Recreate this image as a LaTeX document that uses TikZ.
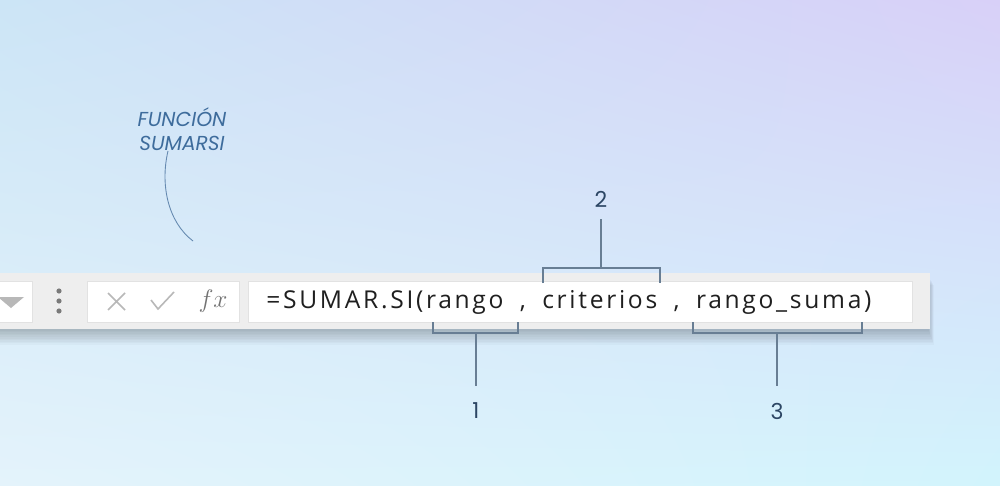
\documentclass[tikz,border=0pt]{standalone}
\usepackage{fontspec}
\setmainfont{Open Sans}
\newfontfamily\popfont{Poppins}
\newfontfamily\formfont[LetterSpace=11,WordSpace=1.8]{Open Sans}
\usetikzlibrary{positioning,shadings}

\definecolor{bgtl}{RGB}{204,229,246}
\definecolor{bgtr}{RGB}{216,208,248}
\definecolor{bgbl}{RGB}{228,243,251}
\definecolor{bgbr}{RGB}{210,244,252}
\definecolor{barfill}{RGB}{238,238,238}
\definecolor{cellline}{RGB}{226,226,226}
\definecolor{brkgray}{RGB}{104,126,148}
\definecolor{numblue}{RGB}{44,70,100}
\definecolor{titleblue}{RGB}{62,108,156}
\definecolor{icongray}{RGB}{184,184,184}

\begin{document}
\begin{tikzpicture}[x=0.02cm,y=-0.02cm,
    brk/.style={draw=brkgray,line width=0.8pt},
    num/.style={text=numblue,font=\popfont\fontsize{12.5}{12.5}\selectfont},
    cell/.style={fill=white,draw=cellline,line width=0.5pt}]
  \useasboundingbox (0,0) rectangle (1000,486);
  % background
  \shade[upper left=bgtl,upper right=bgtr,lower left=bgbl,lower right=bgbr]
    (0,0) rectangle (1000,486);

  % shadow under the bar
  \foreach \i in {1,...,10}
    \fill[black,opacity=0.025] (-10,275+\i) rectangle (928+0.6*\i,329+1.6*\i);
  \fill[barfill] (-10,273) rectangle (930,329);

  % cells
  \filldraw[cell] (-10,281) rectangle (32,322);
  \filldraw[cell] (87,281) rectangle (239,322);
  \filldraw[cell] (248,281) rectangle (912,322);

  % dropdown and dots
  \fill[icongray] (-2,297) -- (24,297) -- (11,308) -- cycle;
  \foreach \yy in {291,301,311}
    \fill[black!52] (59,\yy) circle (2.6);

  % cancel, enter, fx
  \draw[icongray,line width=0.9pt] (108,293) -- (125,310) (125,293) -- (108,310);
  \draw[icongray,line width=0.9pt] (151,300) -- (158,309) -- (174,292);
  \node[text=black!55,font=\fontsize{14}{14}\selectfont] (fx) at (213,301) {$fx$};

  % formula
  \node[anchor=base west,inner sep=0pt,text=black!88,
    font=\formfont\fontsize{14}{16}\selectfont] (formula) at (266,308.5)
    {=SUMAR.SI(rango , criterios , rango\_suma)};

  % bracket 1
  \coordinate (r1a) at (433,322);
  \coordinate (r1b) at (518,322);
  \coordinate (r1m) at (476,333);
  \node[num] (n1) at (476,411) {1};
  \draw[brk] (r1a) -- ++(0,11) -| (r1b);
  \draw[brk,shorten >=6pt] (r1m) -- (n1.north);

  % bracket 2
  \coordinate (r2a) at (543,283);
  \coordinate (r2b) at (660,283);
  \coordinate (r2m) at (601,268);
  \node[num] (n2) at (601,199) {2};
  \draw[brk] (r2a) -- ++(0,-15) -| (r2b);
  \draw[brk,shorten >=3pt] (r2m) -- (n2.south);

  % bracket 3
  \coordinate (r3a) at (693,322);
  \coordinate (r3b) at (862,322);
  \coordinate (r3m) at (777,333);
  \node[num] (n3) at (777,411) {3};
  \draw[brk] (r3a) -- ++(0,11) -| (r3b);
  \draw[brk,shorten >=6pt] (r3m) -- (n3.north);

  % title
  \node[text=titleblue,align=center,font=\popfont\itshape\fontsize{11.5}{13.6}\selectfont]
    (title) at (182,129) {FUNCIÓN\\SUMARSI};
  \coordinate (c0) at (168,151);
  \coordinate (c1) at (193,241);
  \draw[titleblue!80,line width=0.5pt] (c0) .. controls (160,185) and (168,222) .. (c1);
\end{tikzpicture}
\end{document}
